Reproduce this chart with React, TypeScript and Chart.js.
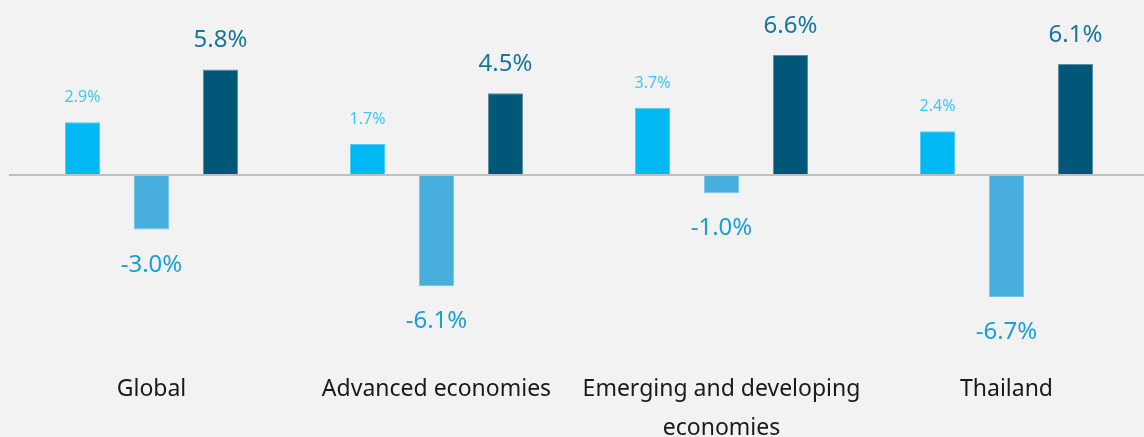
import React, { useEffect, useRef } from "react";
import { Chart, registerables } from "chart.js";

Chart.register(...registerables);

const categories: (string | string[])[] = [
  "Global",
  "Advanced economies",
  ["Emerging and developing", "economies"],
  "Thailand",
];
const seriesNames = ["2019", "2020", "2021"];
const series2019 = [2.9, 1.7, 3.7, 2.4];
const series2020 = [-3.0, -6.1, -1.0, -6.7];
const series2021 = [5.8, 4.5, 6.6, 6.1];

const barColors = ["#00b9f2", "#47aede", "#005778"];
const borderColors = ["#4fcdf5", "#7cc3e6", "#5d8ea4"];
const labelColors = ["#3ec7f5", "#1a9fd8", "#17769f"];
const labelSizes = [16, 24, 24];
// baseline offsets from bar end (positive above, negative below)
const aboveOffsets = [20, 22, 22];
const belowOffsets = [42, 42, 42];

const FONT = "'Noto Sans', sans-serif";

const zeroLinePlugin = {
  id: "zeroLine",
  afterDatasetsDraw(chart: any) {
    const { ctx, chartArea, scales } = chart;
    const y = scales.y.getPixelForValue(0);
    ctx.save();
    ctx.strokeStyle = "#bfbfbf";
    ctx.lineWidth = 2;
    ctx.beginPath();
    ctx.moveTo(chartArea.left, y);
    ctx.lineTo(chart.width, y);
    ctx.stroke();
    ctx.restore();
  },
};

const valueLabelPlugin = {
  id: "valueLabels",
  afterDraw(chart: any) {
    const { ctx } = chart;
    ctx.save();
    ctx.textAlign = "center";
    ctx.textBaseline = "alphabetic";
    chart.data.datasets.forEach((ds: any, di: number) => {
      const meta = chart.getDatasetMeta(di);
      ctx.font = `${labelSizes[di]}px ${FONT}`;
      ctx.fillStyle = labelColors[di];
      meta.data.forEach((bar: any, i: number) => {
        const v = ds.data[i] as number;
        const text = v.toFixed(1) + "%";
        const y = v >= 0 ? bar.y - aboveOffsets[di] : bar.y + belowOffsets[di];
        ctx.fillText(text, bar.x, y);
      });
    });
    ctx.restore();
  },
};

export default function App() {
  const canvasRef = useRef<HTMLCanvasElement | null>(null);

  useEffect(() => {
    document.body.style.background = "#f2f2f2";
    document.body.style.overflow = "hidden";
    document.documentElement.style.overflow = "hidden";
    const canvas = canvasRef.current;
    if (!canvas) return;
    const values = [series2019, series2020, series2021];
    const chart = new Chart(canvas, {
      type: "bar",
      data: {
        labels: categories,
        datasets: values.map((vals, i) => ({
          label: seriesNames[i],
          data: vals,
          backgroundColor: barColors[i],
          borderColor: borderColors[i],
          borderWidth: 1,
          categoryPercentage: 207 / 285,
          barPercentage: 35 / 69,
        })),
      },
      options: {
        responsive: false,
        animation: false,
        devicePixelRatio: 1,
        layout: { padding: { left: 9, right: 21, top: 8, bottom: 0 } },
        plugins: {
          legend: { display: false },
          tooltip: { enabled: false },
        },
        scales: {
          x: {
            grid: { display: false, drawTicks: false },
            border: { display: false },
            ticks: {
              padding: 0,
              color: "#1a1a1a",
              font: { family: FONT, size: 23, lineHeight: 39 / 23 },
              maxRotation: 0,
              autoSkip: false,
            },
            afterFit: (scale: any) => {
              scale.height = 67.5;
            },
          },
          y: {
            display: false,
            min: -10.69,
            max: 9.18,
          },
        },
      },
      plugins: [zeroLinePlugin, valueLabelPlugin],
    });
    return () => chart.destroy();
  }, []);

  return (
    <div
      style={{
        position: "fixed",
        left: 0,
        top: 0,
        width: 1144,
        height: 437,
        overflow: "hidden",
        background: "#f2f2f2",
      }}
    >
      <canvas ref={canvasRef} width={1170} height={437} style={{ display: "block" }} />
    </div>
  );
}
